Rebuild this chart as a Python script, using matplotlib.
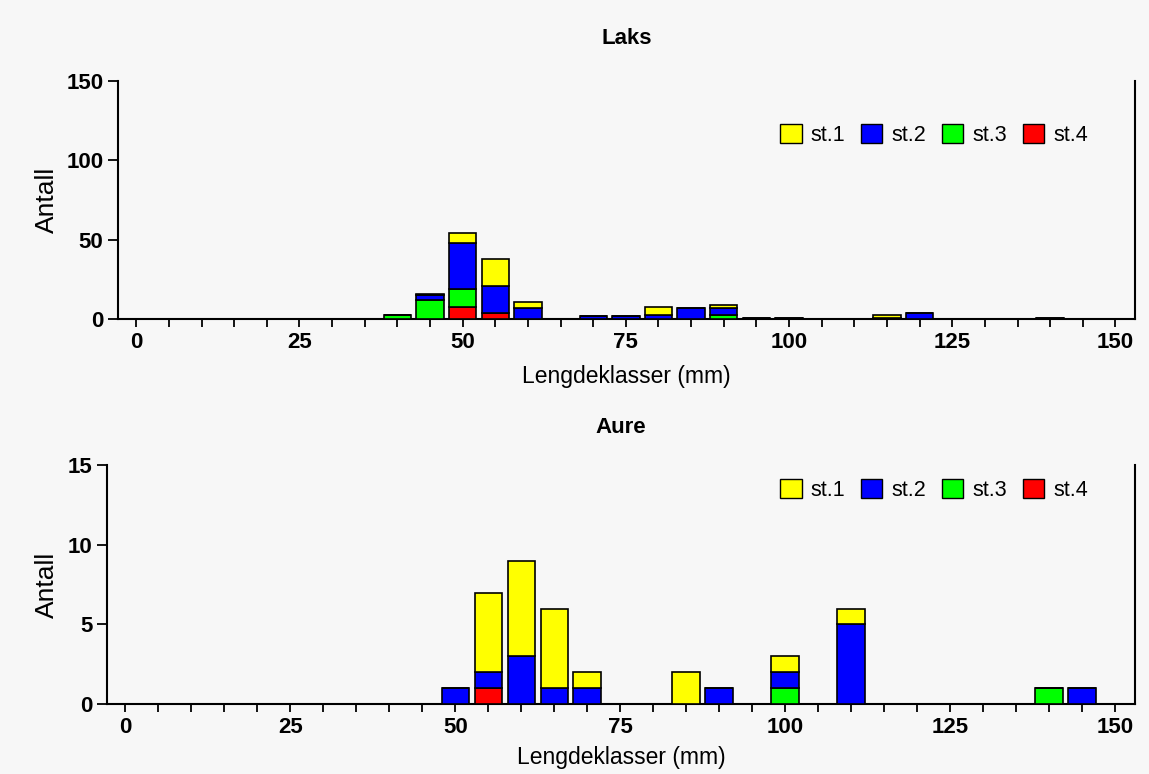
import matplotlib
matplotlib.use('Agg')
import matplotlib.pyplot as plt
import numpy as np
from matplotlib.patches import Patch
from matplotlib.ticker import MultipleLocator

plt.rcParams['font.family'] = ['Liberation Sans', 'DejaVu Sans']

# lengdeklasser, 5 mm
classes = np.arange(0, 155, 5)

laks_st1 = [0, 0, 0, 0, 0, 0, 0, 0, 0, 1,
            6, 17, 4, 0, 0, 0, 5, 0, 2, 0,
            0, 0, 0, 2, 0, 0, 0, 0, 0, 0, 0]
laks_st2 = [0, 0, 0, 0, 0, 0, 0, 0, 0, 3,
            29, 17, 7, 0, 2, 2, 3, 7, 4, 1,
            1, 0, 0, 1, 4, 0, 0, 0, 1, 0, 0]
laks_st3 = [0, 0, 0, 0, 0, 0, 0, 0, 3, 12,
            11, 0, 0, 0, 0, 0, 0, 0, 3, 0,
            0, 0, 0, 0, 0, 0, 0, 0, 0, 0, 0]
laks_st4 = [0, 0, 0, 0, 0, 0, 0, 0, 0, 0,
            8, 4, 0, 0, 0, 0, 0, 0, 0, 0,
            0, 0, 0, 0, 0, 0, 0, 0, 0, 0, 0]

aure_st1 = [0, 0, 0, 0, 0, 0, 0, 0, 0, 0,
            0, 5, 6, 5, 1, 0, 0, 2, 0, 0,
            1, 0, 1, 0, 0, 0, 0, 0, 0, 0, 0]
aure_st2 = [0, 0, 0, 0, 0, 0, 0, 0, 0, 0,
            1, 1, 3, 1, 1, 0, 0, 0, 1, 0,
            1, 0, 5, 0, 0, 0, 0, 0, 0, 1, 0]
aure_st3 = [0, 0, 0, 0, 0, 0, 0, 0, 0, 0,
            0, 0, 0, 0, 0, 0, 0, 0, 0, 0,
            1, 0, 0, 0, 0, 0, 0, 0, 1, 0, 0]
aure_st4 = [0, 0, 0, 0, 0, 0, 0, 0, 0, 0,
            0, 1, 0, 0, 0, 0, 0, 0, 0, 0,
            0, 0, 0, 0, 0, 0, 0, 0, 0, 0, 0]

stations = ['st.1', 'st.2', 'st.3', 'st.4']
colors = ['#ffff00', '#0000ff', '#00ff00', '#ff0000']
bg = '#f7f7f7'

W, H = 1149, 774


def draw(ax, series, title, ymax, ystep, title_y, leg_y):
    # st.4 nederst, st.1 øverst
    bottom = np.zeros(len(classes))
    for vals, col in reversed(list(zip(series, colors))):
        vals = np.array(vals, dtype=float)
        ax.bar(classes, vals, width=4.2, bottom=bottom, color=col,
               edgecolor='black', linewidth=1.2, zorder=3)
        bottom += vals
    ax.set_facecolor(bg)
    ax.set_xlim(-2.8, 153)
    ax.set_ylim(0, ymax)
    ax.xaxis.set_major_locator(MultipleLocator(25))
    ax.xaxis.set_minor_locator(MultipleLocator(5))
    ax.yaxis.set_major_locator(MultipleLocator(ystep))
    ax.tick_params(axis='both', which='both', direction='out', length=6,
                   width=1.3, labelsize=16)
    ax.tick_params(axis='y', length=7)
    for lab in ax.get_xticklabels() + ax.get_yticklabels():
        lab.set_fontweight('bold')
    ax.spines['top'].set_visible(False)
    for s in ['left', 'bottom', 'right']:
        ax.spines[s].set_linewidth(1.5)
    fig.text(ax.get_position().x0 + ax.get_position().width / 2,
             1 - title_y / H, title, ha='center', va='center',
             fontsize=16, fontweight='bold')
    ax.set_xlabel('Lengdeklasser (mm)', fontsize=16.5)
    ax.set_ylabel('Antall', fontsize=19)
    handles = [Patch(facecolor=c, edgecolor='black', linewidth=1.0) for c in colors]
    ax.legend(handles, stations, ncol=4, frameon=False, fontsize=15.5,
              handlelength=1.0, handleheight=1.0, handletextpad=0.4,
              columnspacing=0.75, borderpad=0, borderaxespad=0,
              loc='center left', bbox_to_anchor=(780 / W, 1 - leg_y / H),
              bbox_transform=fig.transFigure)


fig = plt.figure(figsize=(11.49, 7.74), dpi=100, facecolor=bg)
ax1 = fig.add_axes([118 / W, 1 - 319.3 / H, 1017 / W, 238.6 / H])
ax2 = fig.add_axes([107 / W, 1 - 704 / H, 1028 / W, 238.6 / H])

draw(ax1, [laks_st1, laks_st2, laks_st3, laks_st4], 'Laks', 150, 50, 38, 135)
draw(ax2, [aure_st1, aure_st2, aure_st3, aure_st4], 'Aure', 15, 5, 428, 490)

ax1.yaxis.set_label_coords(-0.058, 0.5)
ax2.yaxis.set_label_coords(-0.047, 0.5)
ax1.xaxis.set_label_coords(0.5, -0.19)
ax2.xaxis.set_label_coords(0.5, -0.178)

plt.savefig('out.png', dpi=100, facecolor=bg)
